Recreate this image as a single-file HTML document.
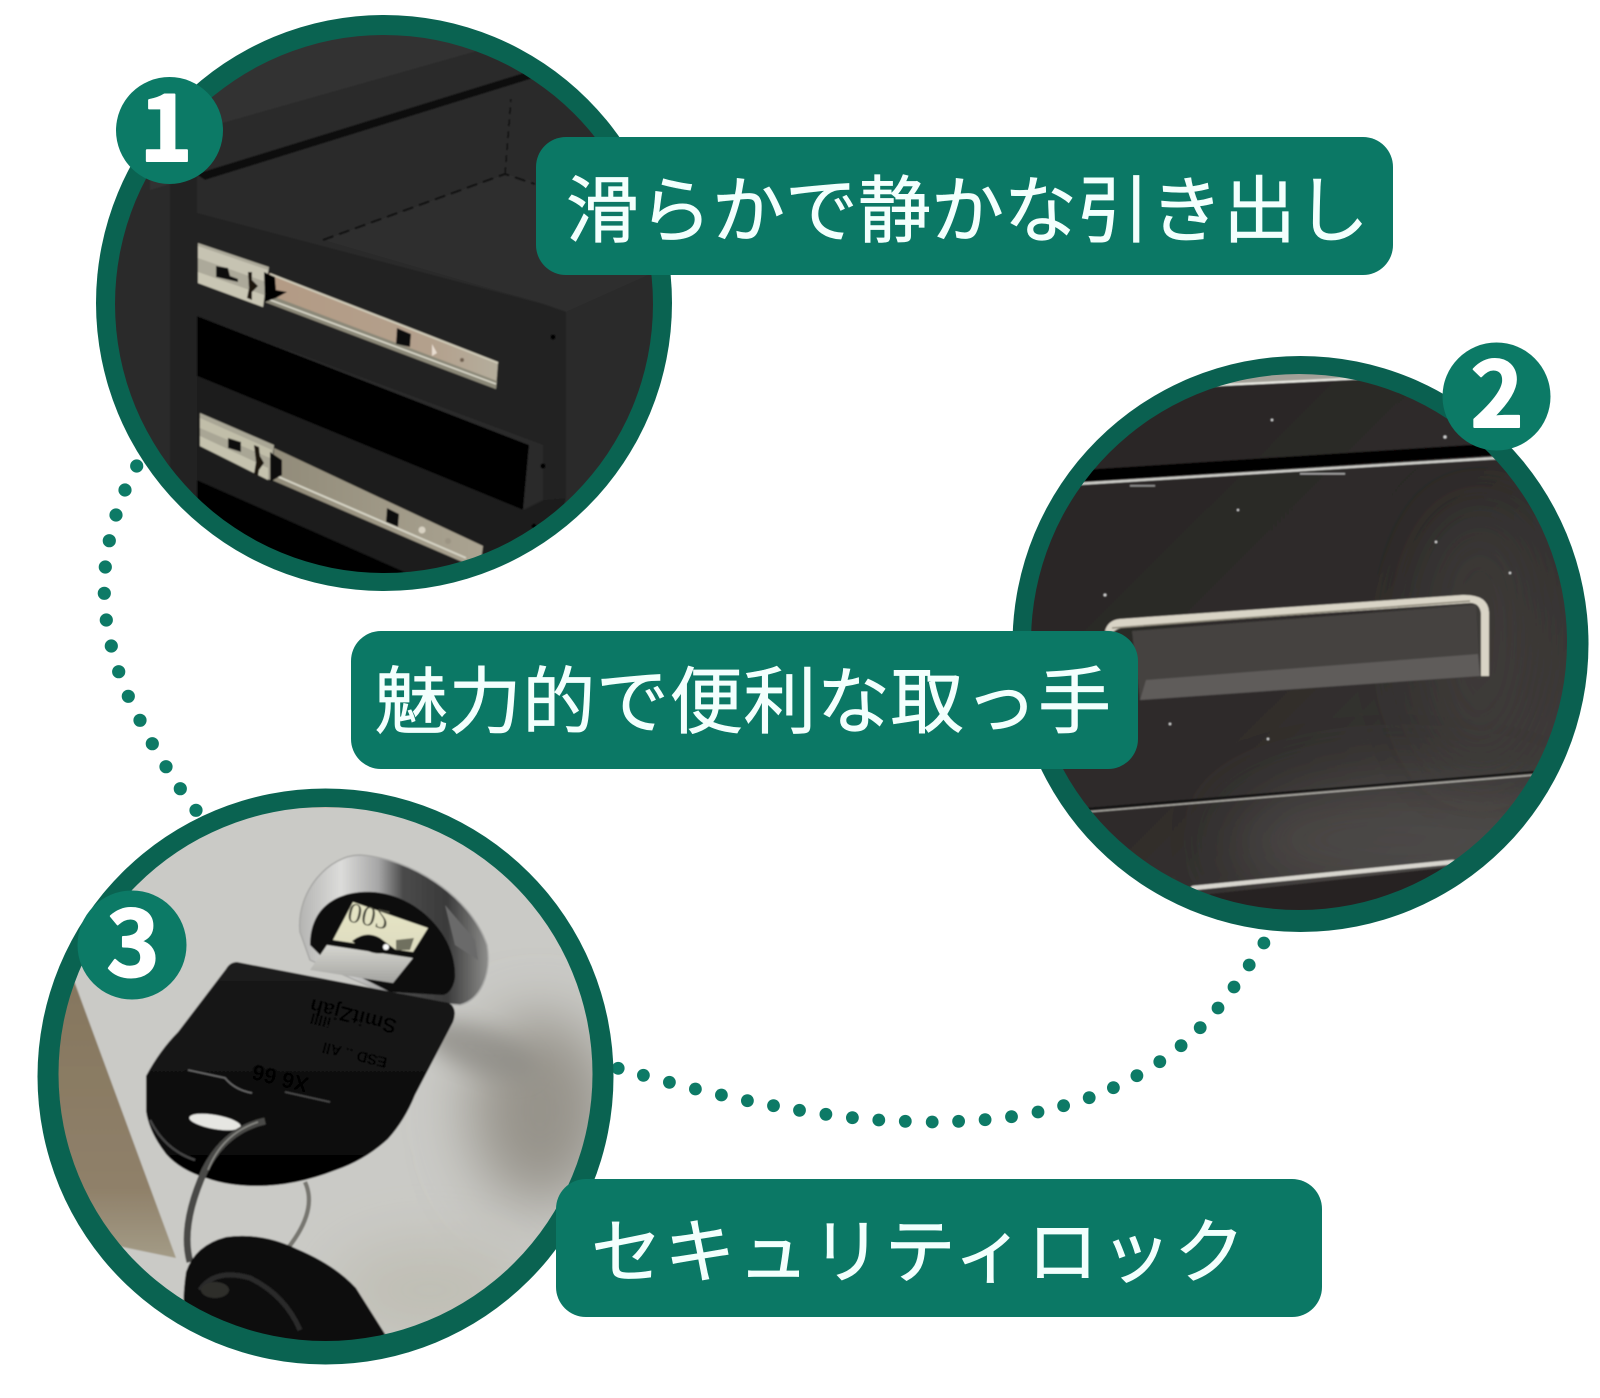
<!DOCTYPE html>
<html lang="ja">
<head>
<meta charset="utf-8">
<title>特徴</title>
<style>
html,body{margin:0;padding:0;background:#fff}
svg{display:block}
.lab{font-family:"Liberation Sans","Noto Sans CJK JP",sans-serif;fill:#f3fffd;stroke:#f3fffd;stroke-width:.7}
.num{font-family:"Noto Sans CJK JP",sans-serif;font-weight:700;font-size:90px;fill:#fff;stroke:#fff;stroke-width:2;stroke-linejoin:round;text-anchor:middle}
</style>
</head>
<body>
<svg xmlns="http://www.w3.org/2000/svg" width="1600" height="1398" viewBox="0 0 1600 1398">
<defs>
<clipPath id="c1"><circle cx="384" cy="304" r="269"/></clipPath>
<clipPath id="c2"><circle cx="1299" cy="642" r="268"/></clipPath>
<clipPath id="c3"><circle cx="325.5" cy="1074" r="267"/></clipPath>
<filter id="b1" x="-5%" y="-5%" width="110%" height="110%"><feGaussianBlur stdDeviation="0.8"/></filter>
<filter id="b8" x="-40%" y="-40%" width="180%" height="180%"><feGaussianBlur stdDeviation="10"/></filter>
<filter id="b30" x="-60%" y="-60%" width="220%" height="220%"><feGaussianBlur stdDeviation="30"/></filter>
<linearGradient id="g2" x1="0" y1="0" x2="1" y2="1"><stop offset="0" stop-color="#272423"/><stop offset=".5" stop-color="#2e2b2a"/><stop offset="1" stop-color="#474442"/></linearGradient>
<linearGradient id="rail" x1="0" y1="0" x2="1" y2="0"><stop offset="0" stop-color="#b39a84"/><stop offset=".7" stop-color="#b3a08c"/><stop offset="1" stop-color="#b4ad9c"/></linearGradient>
<linearGradient id="rail2" x1="0" y1="0" x2="1" y2="0"><stop offset="0" stop-color="#918b79"/><stop offset="1" stop-color="#aaa391"/></linearGradient>
<linearGradient id="keyg" x1="0" y1="0" x2="0" y2="1"><stop offset="0" stop-color="#1b1b1b"/><stop offset=".55" stop-color="#101010"/><stop offset="1" stop-color="#020202"/></linearGradient>
<linearGradient id="plug" x1="0" y1="0" x2="0" y2="1"><stop offset="0" stop-color="#e6e5c4"/><stop offset="1" stop-color="#dedcc0"/></linearGradient>
<linearGradient id="plug2" x1="0" y1="0" x2="0" y2="1"><stop offset="0" stop-color="#d6d6d0"/><stop offset="1" stop-color="#a3a3a0"/></linearGradient>
<linearGradient id="lockg" x1="0" y1="0" x2="1" y2="0"><stop offset="0" stop-color="#b4b4b2"/><stop offset=".22" stop-color="#dcdcda"/><stop offset=".42" stop-color="#a5a5a5"/><stop offset=".55" stop-color="#4a4a4a"/><stop offset=".78" stop-color="#3a3a3a"/><stop offset="1" stop-color="#8c8c8a"/></linearGradient>
<linearGradient id="wedge" x1="0" y1="0" x2="0" y2="1"><stop offset="0" stop-color="#85765e"/><stop offset=".75" stop-color="#8f8069"/><stop offset="1" stop-color="#a39b86"/></linearGradient>
</defs>

<!-- dotted connectors -->
<g fill="#0d7a66">
<circle cx="136.7" cy="466" r="6.6"/><circle cx="125" cy="490" r="6.6"/><circle cx="116" cy="515" r="6.6"/><circle cx="109.3" cy="540.7" r="6.6"/><circle cx="105.3" cy="567" r="6.6"/><circle cx="104.3" cy="593.3" r="6.6"/><circle cx="106.3" cy="620" r="6.6"/><circle cx="111.3" cy="646" r="6.6"/><circle cx="118.7" cy="671.7" r="6.6"/><circle cx="128.3" cy="696.3" r="6.6"/><circle cx="140" cy="720.3" r="6.6"/><circle cx="152.3" cy="743.7" r="6.6"/><circle cx="166" cy="766.7" r="6.6"/><circle cx="180.3" cy="788.7" r="6.6"/><circle cx="196" cy="810.3" r="6.6"/>
<circle cx="618.2" cy="1068.3" r="6.4"/><circle cx="643.4" cy="1075.3" r="6.4"/><circle cx="669.4" cy="1082.3" r="6.4"/><circle cx="695.4" cy="1089" r="6.4"/><circle cx="721.4" cy="1095" r="6.4"/><circle cx="747.4" cy="1100.7" r="6.4"/><circle cx="773.5" cy="1105.7" r="6.4"/><circle cx="799.5" cy="1110.3" r="6.4"/><circle cx="825.9" cy="1114.3" r="6.4"/><circle cx="852.4" cy="1117.7" r="6.4"/><circle cx="878.8" cy="1120" r="6.4"/><circle cx="905.3" cy="1121.3" r="6.4"/><circle cx="932.2" cy="1122" r="6.4"/><circle cx="958.6" cy="1121.3" r="6.4"/><circle cx="985.1" cy="1119.7" r="6.4"/><circle cx="1011.5" cy="1116.7" r="6.4"/><circle cx="1038" cy="1112" r="6.4"/><circle cx="1063.6" cy="1105.7" r="6.4"/><circle cx="1089.2" cy="1097.7" r="6.4"/><circle cx="1113.4" cy="1087.7" r="6.4"/><circle cx="1136.9" cy="1075.7" r="6.4"/><circle cx="1159.8" cy="1061.7" r="6.4"/><circle cx="1181.1" cy="1045.7" r="6.4"/><circle cx="1200.2" cy="1027.7" r="6.4"/><circle cx="1218" cy="1008" r="6.4"/><circle cx="1234" cy="987" r="6.4"/><circle cx="1249.2" cy="965" r="6.4"/><circle cx="1263.9" cy="943" r="6.4"/>
</g>

<!-- circle 1 -->
<circle cx="384" cy="303" r="288" fill="#0a6351"/>
<g clip-path="url(#c1)">
 <g filter="url(#b1)">
  <rect x="90" y="10" width="590" height="590" fill="#292929"/>
  <rect x="90" y="170" width="80" height="430" fill="#2b2b2b"/>
  <rect x="170" y="170" width="27" height="430" fill="#242424"/>
  <polygon points="150,10 560,10 527,73 196,176 150,190" fill="#313131"/>
  <polygon points="215,125 480,50 527,72 196,176" fill="#292929"/>
  <polygon points="196,174 527,72 540,76 205,180" fill="#101010"/>
  <polygon points="205,180 540,76 660,200 660,300 197,213" fill="#2a2a2a"/>
  <polygon points="323,240 505,174 660,210 653,273 566,312 543,304" fill="#2d2d2d"/>
  <polygon points="197,186 505,174 323,240 197,210" fill="#2a2a2a"/>
  <polygon points="566,312 660,270 660,600 540,600 566,495" fill="#2c2c2c"/>
  <polygon points="543,304 566,312 566,498 543,500" fill="#202020"/>
  <polygon points="197,213 543,304 543,445 197,316" fill="#202020"/>
  <polygon points="197,316 529,445 523,510 197,376" fill="#040404"/>
  <polygon points="197,376 523,510 543,500 566,498 540,600 416,600 197,480" fill="#1f1f1f"/>
  <polygon points="197,480 416,577 416,600 197,600" fill="#050505"/>
  <path d="M323,240 L505,174 L535,184" stroke="#0b0b0b" stroke-width="2" stroke-dasharray="11 6" fill="none"/>
  <path d="M505,174 L511,99" stroke="#111" stroke-width="1.6" stroke-dasharray="7 5" fill="none"/>
  <circle cx="553" cy="337" r="2.6" fill="#050505"/><circle cx="543" cy="466" r="2.6" fill="#050505"/><circle cx="534" cy="526" r="2.4" fill="#050505"/>
  <polygon points="269,273 498,362 496,389 265,302" fill="url(#rail)"/>
  <polygon points="265,302 496,389 497,381 267,294" fill="#8b8878"/>
  <path d="M265,298 L496,384" stroke="#d8d6c8" stroke-width="1.6"/>
  <path d="M270,274 L498,363" stroke="#cfcab8" stroke-width="2"/>
  <polygon points="198,243 269,267 263,307 198,283" fill="#aca99a"/>
  <polygon points="198,246 268,270 266,282 198,258" fill="#c6c3b2"/>
  <polygon points="198,272 264,295 263,307 198,283" fill="#c9c6b4"/>
  <polygon points="216,266 228,268 230,276 238,279 238,282 216,277" fill="#0b0b0b"/>
  <path d="M248,272 L252,272 L252,280 L258,286 L252,292 L252,300 L247,298 L249,288 Z" fill="#1b1510"/>
  <polygon points="264,272 275,277 276,290 287,292 276,298 265,302" fill="#050505"/>
  <polygon points="397,328 411,334 410,347 396,344" fill="#0d0d0d"/>
  <polygon points="432,344 437,353 432,356" fill="#e8ddd0"/>
  <circle cx="462" cy="360" r="2" fill="#6f5f50"/>
  <polygon points="274,448 483,546 481,560 465,563 272,480" fill="url(#rail2)"/>
  <path d="M272,474 L466,558" stroke="#d5d3c4" stroke-width="2"/>
  <polygon points="200,413 274,445 270,480 200,446" fill="#a9a695"/>
  <polygon points="200,418 272,450 270,458 200,428" fill="#c1bea9"/>
  <polygon points="200,436 268,468 268,480 200,446" fill="#c5c2ae"/>
  <polygon points="228,438 241,442 241,452 228,448" fill="#0c0c0c"/>
  <path d="M254,445 L259,447 L260,456 L264,463 L259,470 L258,476 L254,474 L256,462 Z" fill="#1b1510"/>
  <polygon points="270,452 282,460 282,475 270,482" fill="#070707"/>
  <polygon points="387,508 399,514 398,527 386,522" fill="#0d0d0d"/>
  <circle cx="422" cy="530" r="3.5" fill="#d8d2c2"/><circle cx="448" cy="541" r="3" fill="#9b9483"/>
 </g>
</g>

<!-- circle 2 -->
<circle cx="1300.5" cy="644" r="288" fill="#0a6050"/>
<g clip-path="url(#c2)">
 <g filter="url(#b1)">
  <rect x="1010" y="350" width="590" height="590" fill="url(#g2)"/>
  <ellipse cx="1400" cy="840" rx="170" ry="60" fill="#5a5754" opacity=".55" filter="url(#b30)"/>
  <ellipse cx="1480" cy="640" rx="60" ry="130" fill="#3f3c3a" opacity=".7" filter="url(#b30)"/>
  <polygon points="1190,360 1370,360 1367,378 1199,386" fill="#a2a098"/>
  <path d="M1199,386 L1367,378" stroke="#efefe8" stroke-width="2"/>
  <polygon points="1080,470 1500,443 1500,455 1076,482" fill="#050505"/>
  <path d="M1076,484 L1497,458" stroke="#cfcfca" stroke-width="2.4"/>
  <polygon points="1132,631 1476,605 1480,676 1140,700" fill="#454240"/>
  <polygon points="1146,680 1478,654 1480,676 1140,700" fill="#5e5b5a"/>
  <path d="M1105,631 Q1108,620 1120,619 L1462,595 Q1488,594 1489,612 L1489,676 L1481,676 L1481,614 Q1480,602 1468,603 L1125,627 Q1118,628 1113,632 Z" fill="#d9d4c6"/>
  <path d="M1112,628 L1470,601" stroke="#8f8a7c" stroke-width="1.6"/>
  <path d="M1086,809 L1534,772" stroke="#0a0a0a" stroke-width="2"/>
  <path d="M1086,812 L1534,775" stroke="#a9a7a1" stroke-width="1.6"/>
  <polygon points="1210,894 1458,866 1480,940 1200,940" fill="#262322"/>
  <path d="M1193,888 L1453,862" stroke="#d8d6cf" stroke-width="4.4" stroke-linecap="round"/>
  <g fill="#d8d8d8">
    <circle cx="1272" cy="420" r="1.2"/><circle cx="1445" cy="437" r="1.5"/><circle cx="1238" cy="510" r="1.1"/><circle cx="1105" cy="595" r="1.4"/><circle cx="1436" cy="542" r="1.2"/><circle cx="1510" cy="573" r="1.2"/><circle cx="1170" cy="724" r="1.2"/><circle cx="1268" cy="739" r="1.2"/>
    <rect x="1300" y="473" width="45" height="1.6" opacity=".7"/><rect x="1130" y="485" width="25" height="1.6" opacity=".6"/>
  </g>
 </g>
</g>

<!-- circle 3 -->
<circle cx="325.5" cy="1076.5" r="288" fill="#0a6351"/>
<g clip-path="url(#c3)">
 <g filter="url(#b1)">
  <rect x="40" y="790" width="580" height="580" fill="#cacac6"/>
  <ellipse cx="540" cy="1110" rx="70" ry="95" fill="#96938a" filter="url(#b30)"/>
  <ellipse cx="480" cy="1050" rx="60" ry="22" transform="rotate(20 480 1050)" fill="#8f8d87" opacity=".8" filter="url(#b8)"/>
  <ellipse cx="430" cy="1290" rx="100" ry="50" fill="#bdbbb0" opacity=".8" filter="url(#b30)"/>
  <rect x="270" y="803" width="95" height="4" fill="#c4672a"/>
  <rect x="270" y="1336" width="110" height="4" fill="#a8722c"/>
  <polygon points="40,1000 73,978 176,1258 118,1246 40,1180" fill="url(#wedge)"/>
  <!-- lock bezel -->
  <path d="M300,932 C296,890 330,855 360,855 C410,858 470,895 487,945 C492,975 480,1000 460,1005 L400,1000 L310,960 Z" fill="url(#lockg)" stroke="#a8a8a6" stroke-width="1.5"/>
  <path d="M445,905 L475,940 L478,960 L455,945 Z" fill="#6a6a6a"/>
  <path d="M310,945 C310,905 340,890 373,892 C417,895 457,935 455,978 C453,990 447,995 442,995 L390,992 L323,958 Z" fill="#0c0c0c"/>
  <polygon points="353,902 428,928 413,952 333,940" fill="url(#plug)"/>
  <polygon points="327,945 413,958 393,983 310,970" fill="url(#plug2)"/>
  <text transform="translate(350,903) rotate(12) scale(1,-1)" font-family="Liberation Serif,serif" font-size="28" fill="#4a4a3c">002</text>
  <path d="M352,941 Q366,930 380,938 Q388,944 396,950 Q378,957 366,950 Q358,946 352,941 Z" fill="#0a0a0a"/>
  <polygon points="396,940 414,938 410,950 396,950" fill="#70705e"/>
  <circle cx="386" cy="947" r="3" fill="#fff"/>
  <!-- key 1 -->
  <path d="M237,962 L449,1003 Q458,1008 453,1022 L415,1095 Q405,1120 388,1139 Q365,1160 336,1170 Q295,1186 257,1186 Q228,1186 206,1178 Q180,1170 166,1154 Q149,1132 146,1111 L146,1076 Q160,1050 178,1032 L226,969 Q230,962 237,962 Z" fill="url(#keyg)"/>
  <path d="M166,1098 Q180,1070 190,1070 Q205,1070 225,1085 L235,1093 L260,1091 L300,1093 Q338,1105 336,1120 L320,1135 L280,1142 L210,1150 L175,1135 Z" fill="#0a0a0a"/>
  <path d="M188,1070 L225,1078 Q235,1090 252,1093" stroke="#6a6a6a" stroke-width="1.6" fill="none"/>
  <path d="M285,1092 L330,1102" stroke="#4d4d4d" stroke-width="1.6" fill="none"/>
  <ellipse cx="215" cy="1122" rx="26" ry="7" transform="rotate(10 215 1122)" fill="#e6e6e2"/>
  <path d="M150,1120 Q165,1150 195,1160" stroke="#444" stroke-width="2.4" fill="none"/>
  <g fill="#030303" font-family="Liberation Sans,sans-serif" font-weight="700">
    <text transform="translate(398,1020) rotate(194)" font-size="21">SmitZjah</text>
    <text transform="translate(332,1018) rotate(194)" font-size="15">illll</text>
    <text transform="translate(388,1058) rotate(194)" font-size="15">ESD  ..  All</text>
    <text transform="translate(310,1078) rotate(194)" font-size="22">X6 66</text>
  </g>
  <path d="M265,1121 Q225,1130 205,1170 Q180,1225 190,1262" stroke="#4a4a47" stroke-width="7" fill="none"/>
  <path d="M258,1122 Q222,1134 208,1170" stroke="#8a8a85" stroke-width="1.6" fill="none"/>
  <path d="M305,1182 Q318,1210 288,1248" stroke="#77766f" stroke-width="4.4" fill="none"/>
  <path d="M186,1272 Q195,1245 226,1237 Q262,1232 297,1249 Q335,1265 356,1288 L392,1345 L188,1345 Q180,1310 186,1272 Z" fill="#0c0c0c"/>
  <path d="M200,1290 Q215,1268 250,1278 Q285,1295 300,1330" stroke="#2a2a2a" stroke-width="5" fill="none"/>
  <ellipse cx="215" cy="1290" rx="14" ry="8" fill="#2d2d2b"/>
 </g>
</g>

<!-- number badges -->
<circle cx="169.5" cy="130.5" r="53.5" fill="#0c7a66"/>
<circle cx="1496.5" cy="396.5" r="54" fill="#0c7a66"/>
<circle cx="132" cy="945" r="54.5" fill="#0c7a66"/>
<text class="num" x="166" y="161">1</text>
<text class="num" x="1497" y="427">2</text>
<text class="num" x="133" y="976">3</text>

<!-- label pills -->
<rect x="536" y="137" width="857" height="138" rx="30" fill="#0b7865"/>
<rect x="351" y="631" width="787" height="138" rx="30" fill="#0b7865"/>
<rect x="556" y="1179" width="766" height="138" rx="30" fill="#0b7865"/>

<text class="lab" x="566" y="236" font-size="73" textLength="803" lengthAdjust="spacing">滑らかで静かな引き出し</text>
<text class="lab" x="375" y="727" font-size="73" textLength="736" lengthAdjust="spacing">魅力的で便利な取っ手</text>
<text class="lab" x="591" y="1277" font-size="71" textLength="654" lengthAdjust="spacing">セキュリティロック</text>
</svg>
</body>
</html>
